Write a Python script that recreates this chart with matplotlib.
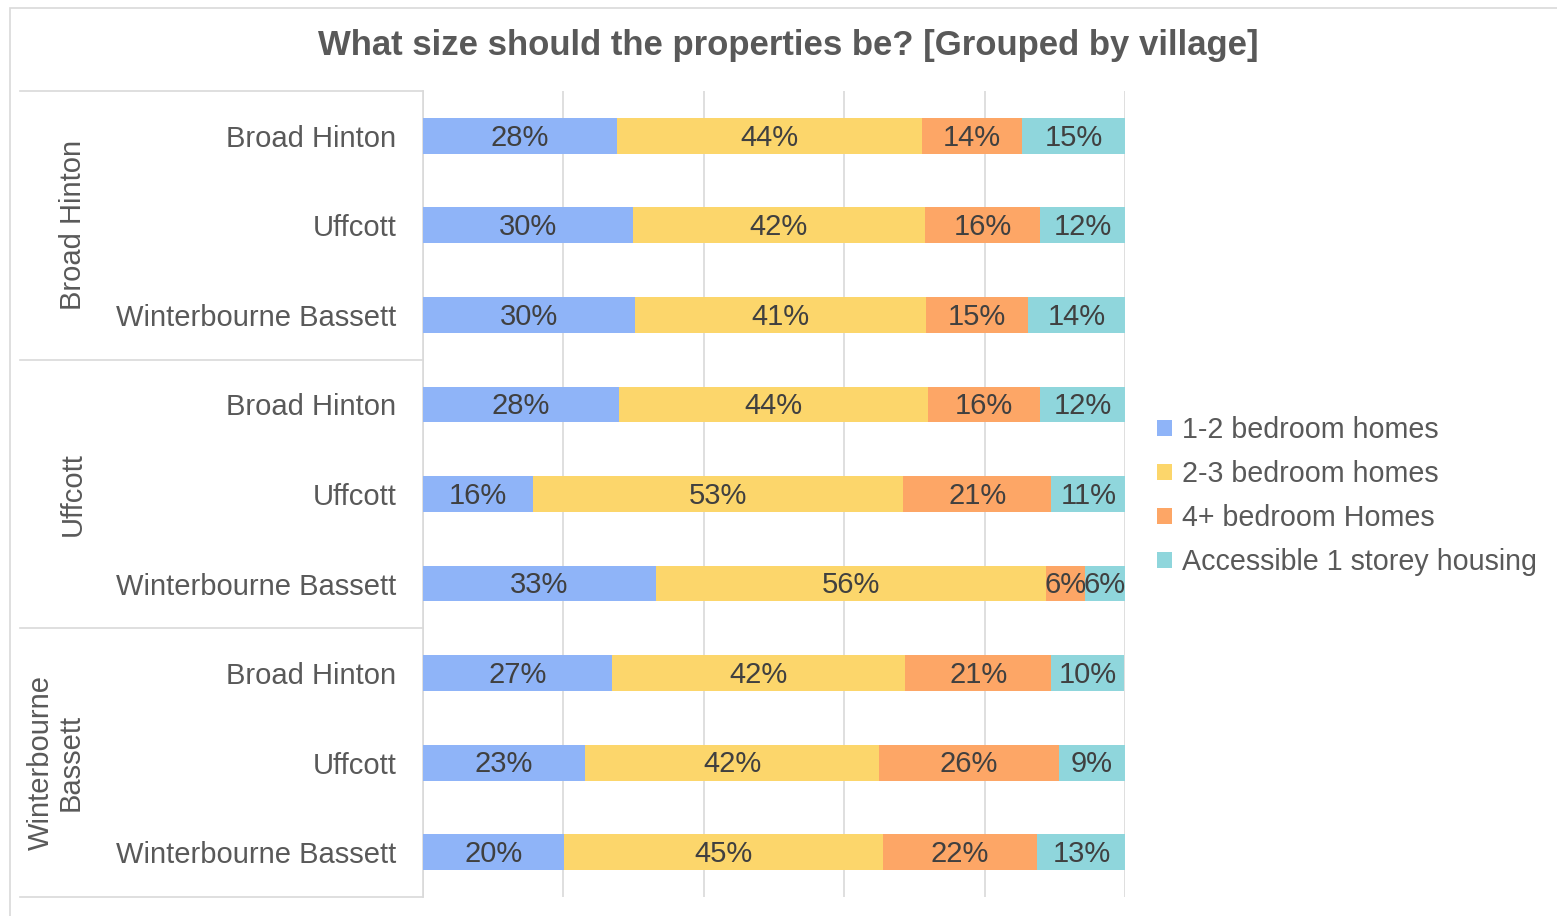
import matplotlib.pyplot as plt
from matplotlib.patches import Patch, Rectangle

plt.rcParams['font.family'] = ['Liberation Sans', 'DejaVu Sans']

# data (percent shares)
groups = ["Broad Hinton", "Uffcott", "Winterbourne\nBassett"]
villages = ["Broad Hinton", "Uffcott", "Winterbourne Bassett"]
series = ["1-2 bedroom homes", "2-3 bedroom homes", "4+ bedroom Homes",
          "Accessible 1 storey housing"]
small = [27.6, 29.9, 30.2, 27.9, 15.7, 33.2, 26.9, 23.1, 20.1]
mid = [43.5, 41.6, 41.4, 44.0, 52.7, 55.5, 41.8, 41.9, 45.4]
big = [14.2, 16.4, 14.6, 16.0, 21.1, 5.6, 20.8, 25.6, 22.0]
access = [14.7, 12.1, 13.8, 12.1, 10.6, 5.7, 10.4, 9.4, 12.6]
colors = ["#8FB4F8", "#FCD66B", "#FDA666", "#8FD6DC"]

grey = "#D9D9D9"
txt = "#404040"

fig = plt.figure(figsize=(15.57, 9.16), dpi=100)
W, H = 1557, 916
ax = fig.add_axes([423 / W, 1 - 897 / H, (1125 - 423) / W, (897 - 91) / H])

# outer frame of the chart area
fig.patches.append(Rectangle((10 / W, -0.01), 1.1, 1 - 8 / H + 0.01,
                             transform=fig.transFigure, fill=False,
                             edgecolor=grey, linewidth=1.2))

rows = list(range(len(small)))
left = [0.0] * len(rows)
for vals, col in zip([small, mid, big, access], colors):
    ax.barh(rows, vals, left=left, height=0.4, color=col, zorder=3)
    for r, v, l in zip(rows, vals, left):
        ax.text(l + v / 2, r + 0.02, f"{round(v)}%", ha="center", va="center",
                fontsize=21, color=txt, zorder=4)
    left = [a + b for a, b in zip(left, vals)]

ax.set_ylim(8.5, -0.5)
ax.set_xlim(0, 100)
ax.set_xticks(range(0, 101, 20))
ax.set_xticklabels([])
ax.tick_params(axis="x", length=0)
ax.grid(axis="x", color=grey, linewidth=1.2, zorder=0)

ax.set_yticks(rows)
ax.set_yticklabels(villages * 3, fontsize=21, color="#595959")
ax.tick_params(axis="y", length=0, pad=19)

for s in ["top", "right", "bottom"]:
    ax.spines[s].set_visible(False)
ax.spines["left"].set_color(grey)
ax.spines["left"].set_linewidth(1.2)

# category group separators and labels
tr = ax.get_yaxis_transform()
x0 = (20 - 423) / (1125 - 423)
for y in [-0.5, 2.5, 5.5, 8.5]:
    ax.plot([x0, 0], [y, y], color=grey, linewidth=1.2, transform=tr,
            clip_on=False)
gxs = [73, 73, 56]
for i, g in enumerate(groups):
    gx = (gxs[i] - 423) / (1125 - 423)
    ax.text(gx, 3 * i + 1, g, rotation=90, ha="center", va="center",
            fontsize=21, color="#595959", transform=tr, linespacing=1.1)

fig.text(788 / W, 1 - 45 / H, "What size should the properties be? [Grouped by village]",
         ha="center", va="center", fontsize=25, fontweight="bold", color="#595959")

handles = [Patch(facecolor=c, edgecolor="none") for c in colors]
fig.legend(handles, series, loc="center left", bbox_to_anchor=(1143 / W, 1 - 496 / H),
           frameon=False, fontsize=20.6, handlelength=0.5, handleheight=0.5,
           handletextpad=0.35, labelspacing=0.56, labelcolor="#595959",
           borderpad=0)

fig.savefig("out.png", dpi=100)
